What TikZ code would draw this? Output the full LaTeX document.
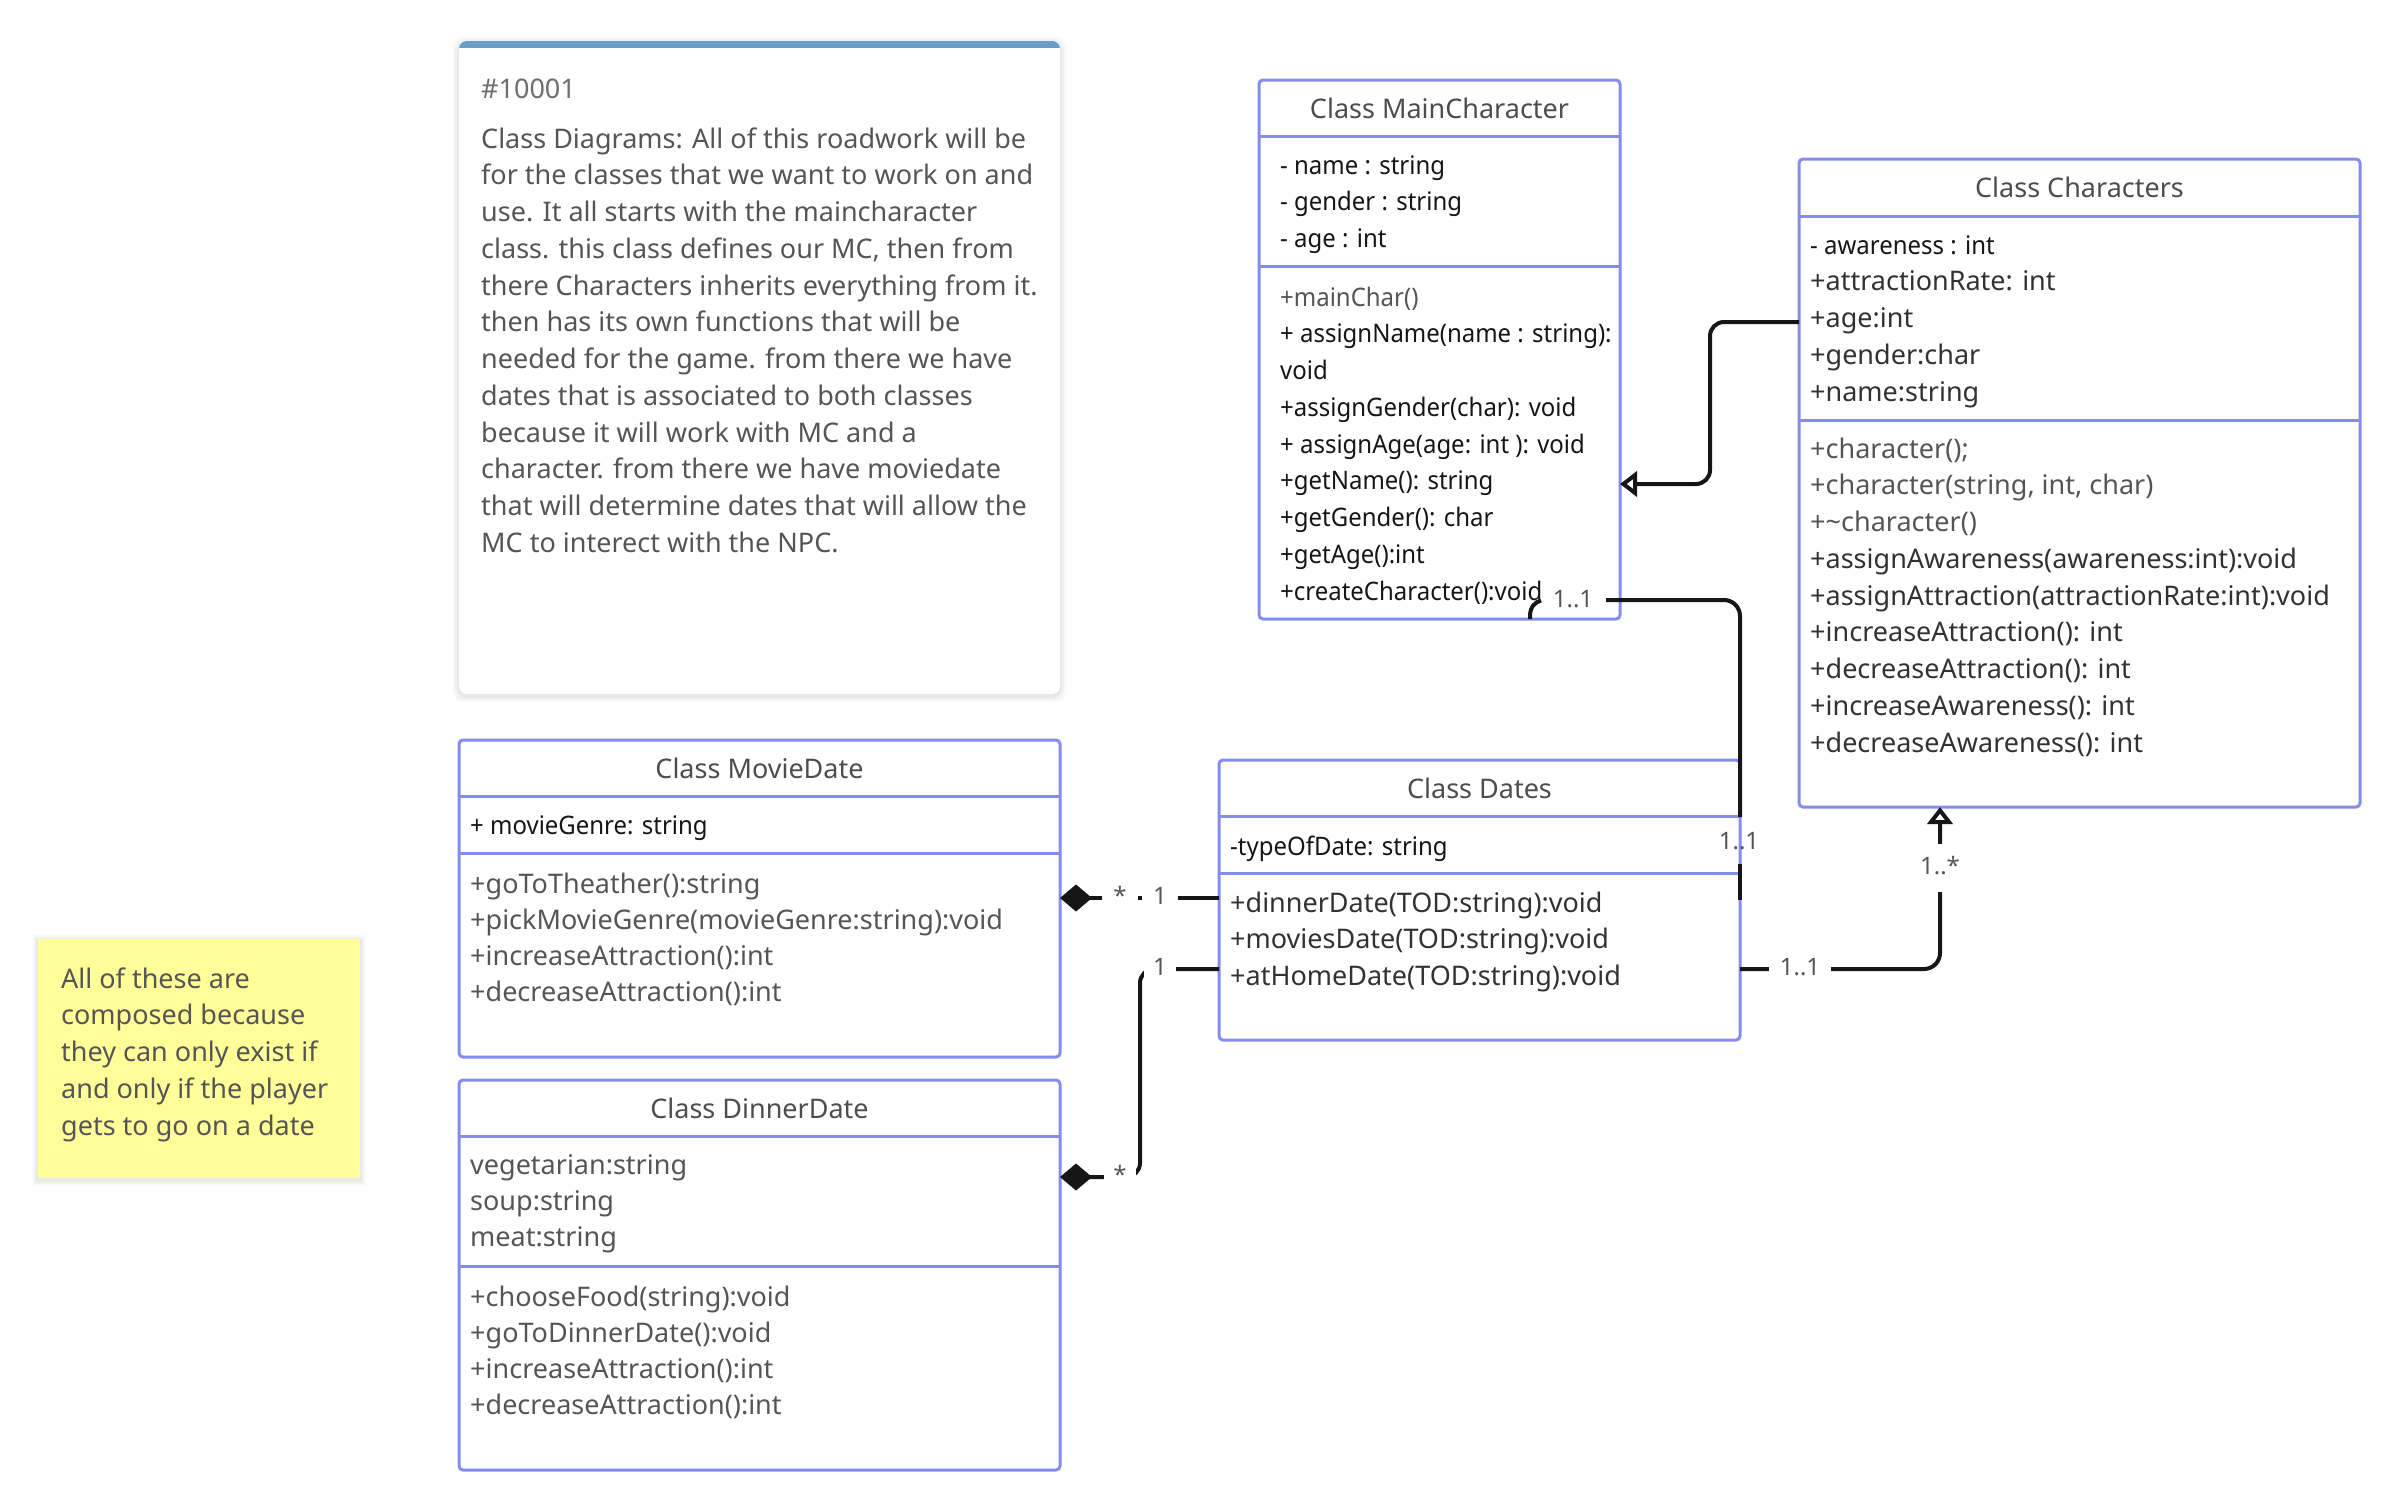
\documentclass[tikz,border=0pt]{standalone}
\usepackage{fontspec}
\setmainfont{Noto Sans}
\newfontfamily\narrowfont[FakeStretch=0.94]{Noto Sans}
\usetikzlibrary{arrows.meta}

\definecolor{umlblue}{RGB}{134,140,239}
\definecolor{ink}{RGB}{22,22,22}
\definecolor{titlegray}{RGB}{77,77,77}
\definecolor{softgray}{RGB}{85,85,85}
\definecolor{deepgray}{RGB}{50,50,50}
\definecolor{bargray}{RGB}{104,157,199}
\definecolor{stickyyellow}{RGB}{255,254,153}

\newcommand\umlfont{\fontsize{27}{32}\selectfont}
\newcommand\umlsmall{\fontsize{24}{30}\selectfont}
\newcommand\umlnarrow{\narrowfont\fontsize{25.5}{30}\selectfont}

\tikzset{
  classbox/.style={draw=umlblue, line width=3pt, rounded corners=4pt, fill=white,
    inner sep=0pt, outer sep=0pt, anchor=north west},
  divider/.style={draw=umlblue, line width=3pt},
  title/.style={anchor=base, inner sep=0pt, text=titlegray, font=\umlfont},
  row/.style={anchor=base west, inner sep=0pt, font=\umlfont},
  inkrow/.style={anchor=base west, inner sep=0pt, font=\umlnarrow, text=ink},
  conn/.style={draw=ink, line width=4pt},
  mult/.style={font=\umlsmall, text=softgray, fill=white, inner xsep=11pt, inner ysep=12pt,
    text height=18pt, text depth=6pt},
  multbare/.style={font=\umlsmall, text=softgray, inner sep=0pt, text height=18pt, text depth=6pt},
  opentip/.style={-{Triangle[open, length=17pt, width=25pt]}},
  solidstart/.style={{Diamond[length=32pt, width=27pt]}-},
}

\begin{document}
\begin{tikzpicture}[x=1pt, y=-1pt]
\useasboundingbox (0,0) rectangle (2401,1512);
\fill[white] (0,0) rectangle (2401,1512);

% ---------- description card ----------
\foreach \g/\o in {6/0.025, 4/0.03, 2/0.04}
  \fill[black, opacity=\o, rounded corners=10pt] (459-\g,41-\g+2) rectangle (1060+\g,694+\g+2);
\node[fill=white, rounded corners=8pt, inner sep=0pt, outer sep=0pt, anchor=north west,
      minimum width=601pt, minimum height=653pt] (card) at (459,41) {};
\begin{scope}
  \clip[rounded corners=8pt] (459,41) rectangle (1060,694);
  \fill[bargray] (459,41) rectangle (1060,48);
\end{scope}
\node[row, text=softgray!85] (cardid) at (481,98) {\#10001};
\foreach \txt [count=\i from 0] in {
  Class Diagrams: All of this roadwork will be,
  for the classes that we want to work on and,
  use. It all starts with the maincharacter,
  {class. this class defines our MC, then from},
  there Characters inherits everything from it.,
  then has its own functions that will be,
  needed for the game. from there we have,
  dates that is associated to both classes,
  because it will work with MC and a,
  character. from there we have moviedate,
  that will determine dates that will allow the,
  MC to interect with the NPC.}
  \node[row, text=softgray] (card-\i) at (481, 148+36.75*\i) {\txt};

% ---------- sticky note ----------
\foreach \g/\o in {6/0.02, 4/0.03, 2/0.04}
  \fill[black, opacity=\o] (38-\g,939-\g+2) rectangle (360+\g,1178+\g+2);
\node[fill=stickyyellow, inner sep=0pt, outer sep=0pt, anchor=north west,
      minimum width=322pt, minimum height=239pt] (sticky) at (38,939) {};
\foreach \txt [count=\i from 0] in {
  All of these are, composed because, they can only exist if,
  and only if the player, gets to go on a date}
  \node[row, text=softgray] (sticky-\i) at (61, 988+36.75*\i) {\txt};

% ---------- Class MainCharacter ----------
\node[classbox, minimum width=361pt, minimum height=539pt] (mc) at (1259,80) {};
\draw[divider] (mc.west |- 0,136) -- (mc.east |- 0,136);
\draw[divider] (mc.west |- 0,266) -- (mc.east |- 0,266);
\node[title] (mc-t) at (1439.5,118) {Class MainCharacter};
\foreach \txt [count=\i from 0] in {- name : string, - gender : string, - age : int}
  \node[inkrow] (mc-a\i) at (1280, 174+36.75*\i) {\txt};
\node[inkrow, text=softgray] (mc-m0) at (1280,306) {+mainChar()};
\foreach \txt [count=\i from 1] in {
  + assignName(name : string):, void, +assignGender(char): void,
  + assignAge(age: int ): void, +getName(): string, +getGender(): char,
  +getAge():int, +createCharacter():void}
  \node[inkrow] (mc-m\i) at (1280, 306+36.75*\i) {\txt};

% ---------- Class Characters ----------
\node[classbox, minimum width=561pt, minimum height=648pt] (ch) at (1799,159) {};
\draw[divider] (ch.west |- 0,216) -- (ch.east |- 0,216);
\draw[divider] (ch.west |- 0,420) -- (ch.east |- 0,420);
\node[title] (ch-t) at (2079.5,197) {Class Characters};
\node[inkrow] (ch-a0) at (1810,254) {- awareness : int};
\foreach \txt [count=\i from 1] in {+attractionRate: int, +age:int, +gender:char, +name:string}
  \node[row, text=deepgray] (ch-a\i) at (1810, 254+36.75*\i) {\txt};
\foreach \txt [count=\i from 0] in {+character();, {+character(string, int, char)},
  +\textasciitilde character()}
  \node[row, text=softgray] (ch-m\i) at (1810, 458+36.75*\i) {\txt};
\foreach \txt [count=\i from 3] in {
  +assignAwareness(awareness:int):void, +assignAttraction(attractionRate:int):void,
  +increaseAttraction(): int, +decreaseAttraction(): int,
  +increaseAwareness(): int, +decreaseAwareness(): int}
  \node[row, text=deepgray] (ch-m\i) at (1810, 458+36.75*\i) {\txt};

% ---------- Class Dates ----------
\node[classbox, minimum width=521pt, minimum height=280pt] (dates) at (1219,760) {};
\draw[divider] (dates.west |- 0,816) -- (dates.east |- 0,816);
\draw[divider] (dates.west |- 0,873) -- (dates.east |- 0,873);
\node[title] (dates-t) at (1479.5,798) {Class Dates};
\node[inkrow] (dates-a0) at (1230,855) {-typeOfDate: string};
\foreach \txt [count=\i from 0] in {+dinnerDate(TOD:string):void,
  +moviesDate(TOD:string):void, +atHomeDate(TOD:string):void}
  \node[row, text=deepgray] (dates-m\i) at (1230, 912+36.75*\i) {\txt};

% ---------- Class MovieDate ----------
\node[classbox, minimum width=601pt, minimum height=317pt] (movie) at (459,740) {};
\draw[divider] (movie.west |- 0,796) -- (movie.east |- 0,796);
\draw[divider] (movie.west |- 0,853) -- (movie.east |- 0,853);
\node[title] (movie-t) at (759.5,778) {Class MovieDate};
\node[inkrow] (movie-a0) at (470,834) {+ movieGenre: string};
\foreach \txt [count=\i from 0] in {+goToTheather():string,
  +pickMovieGenre(movieGenre:string):void, +increaseAttraction():int,
  +decreaseAttraction():int}
  \node[row, text=softgray] (movie-m\i) at (470, 893+36*\i) {\txt};

% ---------- Class DinnerDate ----------
\node[classbox, minimum width=601pt, minimum height=390pt] (dinner) at (459,1080) {};
\draw[divider] (dinner.west |- 0,1136) -- (dinner.east |- 0,1136);
\draw[divider] (dinner.west |- 0,1266) -- (dinner.east |- 0,1266);
\node[title] (dinner-t) at (759.5,1118) {Class DinnerDate};
\foreach \txt [count=\i from 0] in {vegetarian:string, soup:string, meat:string}
  \node[row, text=softgray] (dinner-a\i) at (470, 1174+36*\i) {\txt};
\foreach \txt [count=\i from 0] in {+chooseFood(string):void, +goToDinnerDate():void,
  +increaseAttraction():int, +decreaseAttraction():int}
  \node[row, text=softgray] (dinner-m\i) at (470, 1306+36.3*\i) {\txt};

% ---------- connectors ----------
% Characters generalises MainCharacter
\draw[conn, opentip, rounded corners=14pt]
  (ch.west |- 0,322) -- (1710,322) -- (1710,484) -- (mc.east |- 0,484);

% MainCharacter -- Dates association, broken around its labels
\coordinate (mcfoot) at (1530,619);
\draw[conn] (mcfoot) -- (1530,616) .. controls (1530,607) and (1535,602) .. (1541,600.5);
\draw[conn, rounded corners=16pt] (1606,600) -- (dates.east |- 0,600) -- (dates.east |- 0,817);
\draw[conn] (dates.east |- 0,864) -- (dates.east |- 0,900);
\node[multbare] (mult-mc) at (1573,601) {1..1};
\node[multbare] (mult-dtop) at (1739,843) {1..1};

% Dates generalises Characters
\draw[conn, opentip, rounded corners=16pt]
  (dates.east |- 0,969) -- (1940,969) -- (ch.south -| 1940,0);
\node[mult] (mult-dright) at (1800,969) {1..1};
\node[mult] (mult-ch) at (1940,868) {1..*};

% MovieDate composed into Dates
\draw[conn, solidstart] (movie.east |- 0,898) -- (dates.west |- 0,898);
\node[mult] (mult-mv) at (1120,898) {*};
\node[mult] (mult-dmv) at (1160,898) {1};

% DinnerDate composed into Dates
\draw[conn, solidstart, rounded corners=14pt]
  (dinner.east |- 0,1177) -- (1140,1177) -- (1140,969) -- (dates.west |- 0,969);
\node[mult, inner xsep=9pt] (mult-dn) at (1120,1177) {*};
\node[mult, inner xsep=9pt] (mult-ddn) at (1160,969) {1};
\end{tikzpicture}
\end{document}
